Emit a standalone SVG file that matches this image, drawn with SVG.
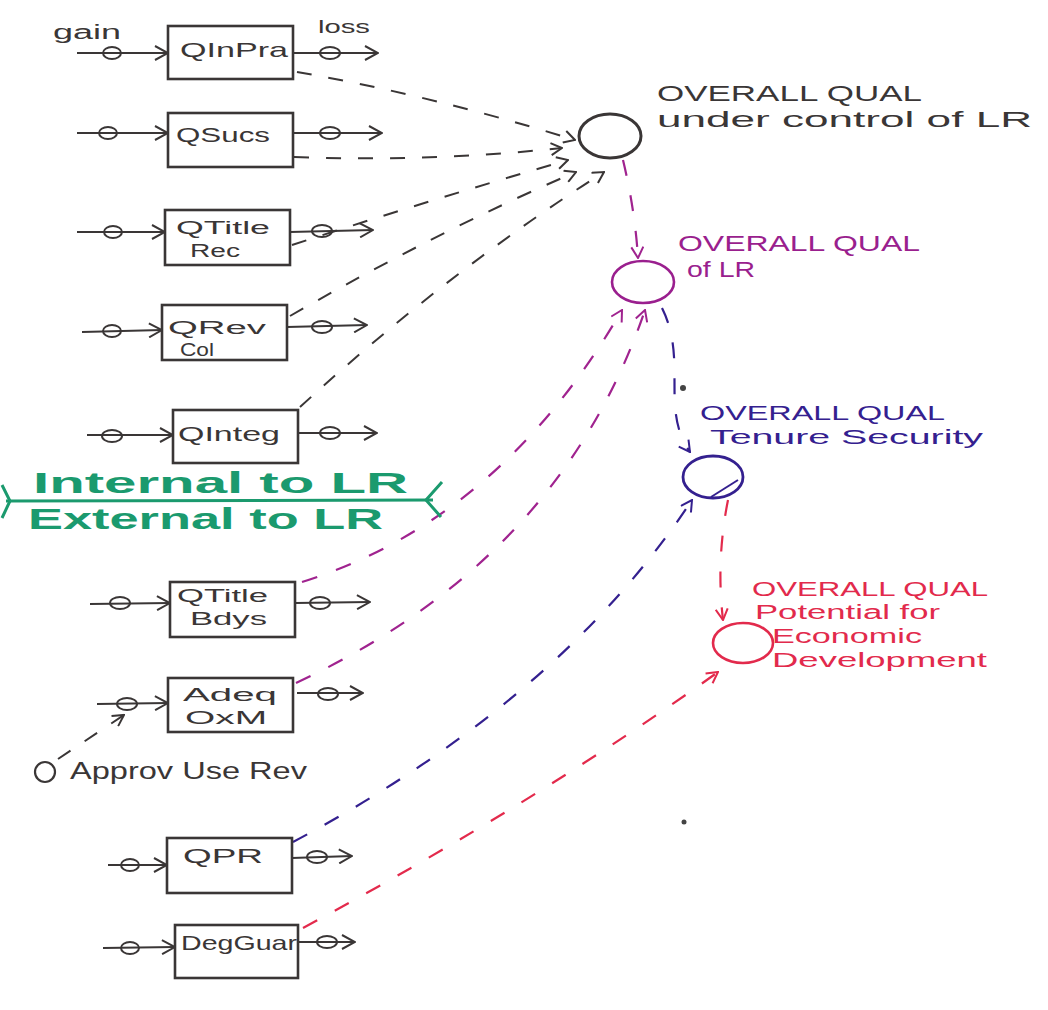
<svg xmlns="http://www.w3.org/2000/svg" width="1048" height="1010" viewBox="0 0 1048 1010">
<defs>
<style>
text{font-family:"Liberation Sans","DejaVu Sans",sans-serif;}
.box{fill:none;stroke:#3a3636;stroke-width:2.6;}
.lbl{font-size:21px;fill:#3a3636;}
.lbl2{font-size:18px;fill:#3a3636;}
.flow{fill:none;stroke:#3a3636;stroke-width:2;}
.valve{fill:none;stroke:#3a3636;stroke-width:2;}
.dk{fill:none;stroke:#3a3636;stroke-width:2;stroke-dasharray:15 17;}
.pu{fill:none;stroke:#a0238f;stroke-width:2.2;stroke-dasharray:16 20;}
.bl{fill:none;stroke:#34208f;stroke-width:2.2;stroke-dasharray:16 20;}
.rd{fill:none;stroke:#e32a4c;stroke-width:2.2;stroke-dasharray:16 20;}
.tdk{font-size:22px;fill:#3a3636;}
.tpu{font-size:22px;fill:#9a1f8e;}
.tbl{font-size:20px;fill:#34208f;}
.trd{font-size:20px;fill:#e22a4c;}
.tgr{font-size:29px;fill:#1b9a6e;font-weight:bold;}
</style>
<marker id="aF" viewBox="0 0 16 16" refX="15" refY="8" markerWidth="16" markerHeight="16" markerUnits="userSpaceOnUse" orient="auto"><path d="M2,1 L15,8 L2,15" fill="none" stroke="#3a3636" stroke-width="2"/></marker>
<marker id="aK" viewBox="0 0 14 14" refX="13" refY="7" markerWidth="14" markerHeight="14" markerUnits="userSpaceOnUse" orient="auto"><path d="M2,1 L13,7 L2,13" fill="none" stroke="#3a3636" stroke-width="2"/></marker>
<marker id="aP" viewBox="0 0 14 14" refX="13" refY="7" markerWidth="14" markerHeight="14" markerUnits="userSpaceOnUse" orient="auto"><path d="M2,1 L13,7 L2,13" fill="none" stroke="#a0238f" stroke-width="2"/></marker>
<marker id="aB" viewBox="0 0 14 14" refX="13" refY="7" markerWidth="14" markerHeight="14" markerUnits="userSpaceOnUse" orient="auto"><path d="M2,1 L13,7 L2,13" fill="none" stroke="#34208f" stroke-width="2"/></marker>
<marker id="aR" viewBox="0 0 14 14" refX="13" refY="7" markerWidth="14" markerHeight="14" markerUnits="userSpaceOnUse" orient="auto"><path d="M2,1 L13,7 L2,13" fill="none" stroke="#e32a4c" stroke-width="2"/></marker>
</defs>
<rect width="1048" height="1010" fill="#ffffff"/>

<g id="connectors">
<path class="dk" d="M297,72 Q430,95 575,140" marker-end="url(#aK)"/>
<path class="dk" d="M294,157 Q430,162 562,148" marker-end="url(#aK)"/>
<path class="dk" d="M292,245 Q430,200 568,160" marker-end="url(#aK)"/>
<path class="dk" d="M290,316 Q440,230 576,172" marker-end="url(#aK)"/>
<path class="dk" d="M300,407 Q450,270 604,172" marker-end="url(#aK)"/>
<path class="pu" d="M302,582 Q500,520 622,310" marker-end="url(#aP)"/>
<path class="pu" d="M296,683 Q560,560 645,310" marker-end="url(#aP)"/>
<path class="bl" d="M293,842 Q560,700 692,500" marker-end="url(#aB)"/>
<path class="rd" d="M303,928 Q540,800 718,672" marker-end="url(#aR)"/>
<path class="pu" d="M623,160 Q635,210 638,258" marker-end="url(#aP)"/>
<path class="bl" d="M662,308 C688,360 660,410 690,452" marker-end="url(#aB)"/>
<path class="rd" d="M728,500 Q716,560 723,620" marker-end="url(#aR)"/>
<path class="dk" d="M58,759 L124,715" marker-end="url(#aK)"/>
</g>

<g id="gain-loss">
<text x="53" y="39" font-size="20" fill="#3a3636" textLength="68" lengthAdjust="spacingAndGlyphs">gain</text>
<text x="318" y="33" font-size="19" fill="#3a3636" textLength="52" lengthAdjust="spacingAndGlyphs">loss</text>
</g>

<g id="n-QInPra">
<rect class="box" x="168" y="26" width="125" height="53"/>
<text class="lbl" x="180" y="57" textLength="108" lengthAdjust="spacingAndGlyphs">QInPra</text>
<line class="flow" x1="77" y1="53" x2="168" y2="53" marker-end="url(#aF)"/>
<ellipse class="valve" cx="112" cy="53" rx="9" ry="6"/>
<line class="flow" x1="293" y1="53" x2="378" y2="53" marker-end="url(#aF)"/>
<ellipse class="valve" cx="330" cy="53" rx="10" ry="6"/>
</g>

<g id="n-QSucs">
<rect class="box" x="168" y="113" width="125" height="54"/>
<text class="lbl" x="176" y="142" textLength="94" lengthAdjust="spacingAndGlyphs">QSucs</text>
<line class="flow" x1="77" y1="133" x2="168" y2="133" marker-end="url(#aF)"/>
<ellipse class="valve" cx="108" cy="133" rx="9" ry="6"/>
<line class="flow" x1="293" y1="133" x2="382" y2="133" marker-end="url(#aF)"/>
<ellipse class="valve" cx="330" cy="133" rx="10" ry="6"/>
</g>

<g id="n-QTitleRec">
<rect class="box" x="165" y="210" width="125" height="55"/>
<text class="lbl2" x="176" y="234" textLength="94" lengthAdjust="spacingAndGlyphs">QTitle</text>
<text class="lbl2" x="190" y="257" textLength="50" lengthAdjust="spacingAndGlyphs">Rec</text>
<line class="flow" x1="77" y1="232" x2="165" y2="232" marker-end="url(#aF)"/>
<ellipse class="valve" cx="113" cy="232" rx="9" ry="6"/>
<line class="flow" x1="290" y1="232" x2="373" y2="230" marker-end="url(#aF)"/>
<ellipse class="valve" cx="322" cy="231" rx="10" ry="6"/>
</g>

<g id="n-QRevCol">
<rect class="box" x="162" y="305" width="125" height="55"/>
<text class="lbl2" x="168" y="334" textLength="98" lengthAdjust="spacingAndGlyphs">QRev</text>
<text class="lbl2" x="180" y="356" textLength="34" lengthAdjust="spacingAndGlyphs">Col</text>
<line class="flow" x1="82" y1="332" x2="162" y2="330" marker-end="url(#aF)"/>
<ellipse class="valve" cx="112" cy="331" rx="9" ry="6"/>
<line class="flow" x1="287" y1="327" x2="367" y2="325" marker-end="url(#aF)"/>
<ellipse class="valve" cx="322" cy="327" rx="10" ry="6"/>
</g>

<g id="n-QInteg">
<rect class="box" x="173" y="410" width="125" height="53"/>
<text class="lbl" x="178" y="441" textLength="102" lengthAdjust="spacingAndGlyphs">QInteg</text>
<line class="flow" x1="87" y1="435" x2="173" y2="435" marker-end="url(#aF)"/>
<ellipse class="valve" cx="112" cy="436" rx="10" ry="6"/>
<line class="flow" x1="298" y1="433" x2="377" y2="433" marker-end="url(#aF)"/>
<ellipse class="valve" cx="330" cy="433" rx="10" ry="6"/>
</g>

<g id="boundary">
<line x1="6" y1="501" x2="433" y2="500" stroke="#1b9a6e" stroke-width="3"/>
<polyline points="2,485 10,501 2,518" fill="none" stroke="#1b9a6e" stroke-width="3"/>
<polyline points="442,482 426,500 441,517" fill="none" stroke="#1b9a6e" stroke-width="3"/>
<text class="tgr" x="33" y="493" textLength="375" lengthAdjust="spacingAndGlyphs">Internal to LR</text>
<text class="tgr" x="28" y="529" textLength="355" lengthAdjust="spacingAndGlyphs">External to LR</text>
</g>

<g id="n-QTitleBdys">
<rect class="box" x="170" y="582" width="125" height="55"/>
<text class="lbl2" x="177" y="602" textLength="91" lengthAdjust="spacingAndGlyphs">QTitle</text>
<text class="lbl2" x="190" y="625" textLength="77" lengthAdjust="spacingAndGlyphs">Bdys</text>
<line class="flow" x1="90" y1="604" x2="170" y2="603" marker-end="url(#aF)"/>
<ellipse class="valve" cx="120" cy="603" rx="10" ry="6"/>
<line class="flow" x1="295" y1="603" x2="370" y2="602" marker-end="url(#aF)"/>
<ellipse class="valve" cx="320" cy="603" rx="10" ry="6"/>
</g>

<g id="n-AdeqOxM">
<rect class="box" x="168" y="678" width="125" height="54"/>
<text class="lbl2" x="183" y="701" textLength="94" lengthAdjust="spacingAndGlyphs">Adeq</text>
<text class="lbl2" x="185" y="724" textLength="82" lengthAdjust="spacingAndGlyphs">OxM</text>
<line class="flow" x1="97" y1="704" x2="168" y2="703" marker-end="url(#aF)"/>
<ellipse class="valve" cx="127" cy="704" rx="10" ry="6"/>
<line class="flow" x1="297" y1="693" x2="363" y2="693" marker-end="url(#aF)"/>
<ellipse class="valve" cx="328" cy="694" rx="10" ry="6"/>
</g>

<g id="n-ApprovUseRev">
<ellipse cx="45" cy="772" rx="10" ry="10" fill="none" stroke="#3a3636" stroke-width="2.2"/>
<text x="70" y="779" font-size="24" fill="#3a3636" textLength="237" lengthAdjust="spacingAndGlyphs">Approv Use Rev</text>
</g>

<g id="n-QPR">
<rect class="box" x="167" y="838" width="125" height="55"/>
<text class="lbl" x="183" y="863" textLength="80" lengthAdjust="spacingAndGlyphs">QPR</text>
<line class="flow" x1="108" y1="865" x2="167" y2="865" marker-end="url(#aF)"/>
<ellipse class="valve" cx="130" cy="865" rx="9" ry="6"/>
<line class="flow" x1="292" y1="858" x2="352" y2="856" marker-end="url(#aF)"/>
<ellipse class="valve" cx="317" cy="857" rx="10" ry="6"/>
</g>

<g id="n-DegGuar">
<rect class="box" x="175" y="925" width="123" height="53"/>
<text class="lbl" x="181" y="950" textLength="116" lengthAdjust="spacingAndGlyphs">DegGuar</text>
<line class="flow" x1="103" y1="948" x2="175" y2="947" marker-end="url(#aF)"/>
<ellipse class="valve" cx="130" cy="948" rx="9" ry="6"/>
<line class="flow" x1="298" y1="942" x2="355" y2="942" marker-end="url(#aF)"/>
<ellipse class="valve" cx="327" cy="942" rx="10" ry="6"/>
</g>

<g id="n-OverallUnderControl">
<ellipse cx="610" cy="136" rx="31" ry="22" fill="none" stroke="#3a3636" stroke-width="3"/>
<text class="tdk" x="657" y="101" textLength="265" lengthAdjust="spacingAndGlyphs">OVERALL QUAL</text>
<text class="tdk" x="657" y="127" textLength="375" lengthAdjust="spacingAndGlyphs">under control of LR</text>
</g>

<g id="n-OverallLR">
<ellipse cx="643" cy="282" rx="31" ry="21" fill="none" stroke="#9a1f8e" stroke-width="2.6"/>
<text class="tpu" x="678" y="251" textLength="242" lengthAdjust="spacingAndGlyphs">OVERALL QUAL</text>
<text class="tpu" x="687" y="277" textLength="68" lengthAdjust="spacingAndGlyphs">of LR</text>
</g>

<g id="n-OverallTenure">
<ellipse cx="713" cy="477" rx="30" ry="21" fill="none" stroke="#34208f" stroke-width="2.8"/>
<line x1="711" y1="497" x2="738" y2="480" stroke="#34208f" stroke-width="2"/>
<text class="tbl" x="700" y="420" textLength="245" lengthAdjust="spacingAndGlyphs">OVERALL QUAL</text>
<text class="tbl" x="710" y="444" textLength="273" lengthAdjust="spacingAndGlyphs">Tenure Security</text>
</g>

<g id="n-OverallEconDev">
<ellipse cx="743" cy="643" rx="30" ry="20" fill="none" stroke="#e22a4c" stroke-width="2.6"/>
<text class="trd" x="752" y="596" textLength="236" lengthAdjust="spacingAndGlyphs">OVERALL QUAL</text>
<text class="trd" x="755" y="619" textLength="185" lengthAdjust="spacingAndGlyphs">Potential for</text>
<text class="trd" x="772" y="643" textLength="150" lengthAdjust="spacingAndGlyphs">Economic</text>
<text class="trd" x="772" y="667" textLength="215" lengthAdjust="spacingAndGlyphs">Development</text>
</g>

<g id="specks">
<circle cx="683" cy="388" r="3" fill="#444"/>
<circle cx="684" cy="822" r="2.5" fill="#444"/>
</g>
</svg>
